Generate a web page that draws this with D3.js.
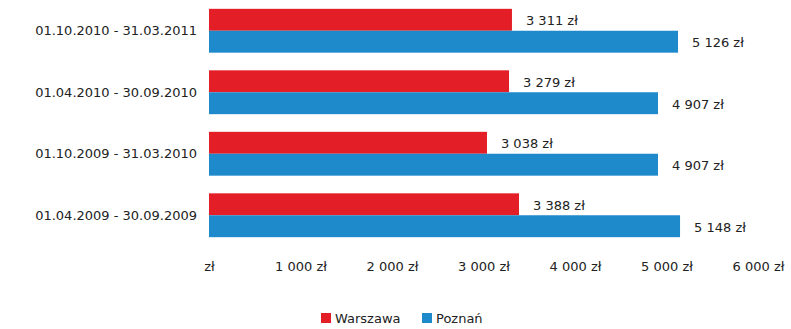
<!DOCTYPE html>
<html>
<head>
<meta charset="utf-8">
<script src="https://cdn.jsdelivr.net/npm/d3@7"></script>
<style>
  html, body { margin: 0; padding: 0; background: #fff; }
  svg { display: block; font-family: "DejaVu Sans", sans-serif; }
</style>
</head>
<body>
<svg id="chart" width="791" height="329"></svg>
<script>
// Periods, top to bottom
const periods = [
  "01.10.2010 - 31.03.2011",
  "01.04.2010 - 30.09.2010",
  "01.10.2009 - 31.03.2010",
  "01.04.2009 - 30.09.2009"
];
const seriesNames = ["Warszawa", "Poznań"];
const warszawa = [3311, 3279, 3038, 3388];
const poznan = [5126, 4907, 4907, 5148];
const tickValues = [0, 1000, 2000, 3000, 4000, 5000, 6000];
const colors = ["#e31e26", "#1f8acb"];

const svg = d3.select("#chart");
const fmt = v => v === 0 ? "zł" : d3.format(",")(v).replace(/,/g, " ") + " zł";

const x = d3.scaleLinear().domain([0, 6000]).range([209, 758]);
const y = d3.scaleBand().domain(periods).range([0, 246]).paddingInner(0.287).paddingOuter(0.1435);
const ys = d3.scaleBand().domain(seriesNames).range([0, y.bandwidth()]);

const rows = periods.map((p, i) => ({ period: p, values: [warszawa[i], poznan[i]] }));

const g = svg.selectAll("g.row").data(rows).join("g")
  .attr("class", "row")
  .attr("transform", d => `translate(0,${y(d.period)})`);

g.selectAll("rect").data(d => d.values.map((v, j) => ({ v, j }))).join("rect")
  .attr("x", x(0))
  .attr("y", d => ys(seriesNames[d.j]))
  .attr("width", d => x(d.v) - x(0))
  .attr("height", ys.bandwidth())
  .attr("fill", d => colors[d.j]);

g.selectAll("text.val").data(d => d.values.map((v, j) => ({ v, j }))).join("text")
  .attr("class", "val")
  .attr("x", d => x(d.v) + 14)
  .attr("y", d => ys(seriesNames[d.j]) + ys.bandwidth() / 2 + 1)
  .attr("dy", "0.35em")
  .attr("font-size", 13)
  .attr("fill", "#222")
  .text(d => fmt(d.v));

// Category labels
svg.selectAll("text.cat").data(periods).join("text")
  .attr("class", "cat")
  .attr("x", 197)
  .attr("y", d => y(d) + y.bandwidth() / 2)
  .attr("dy", "0.35em")
  .attr("text-anchor", "end")
  .attr("font-size", 13)
  .attr("fill", "#222")
  .text(d => d);

// Value axis (labels only)
const axis = svg.append("g")
  .attr("transform", "translate(0,262)")
  .call(d3.axisBottom(x).tickValues(tickValues).tickFormat(fmt).tickSize(0).tickPadding(0));
axis.select(".domain").remove();
axis.selectAll("text")
  .attr("font-size", 13)
  .attr("font-family", "DejaVu Sans, sans-serif")
  .attr("fill", "#222");

// Legend
const legendX = [321, 422];
const lg = svg.selectAll("g.legend").data(seriesNames).join("g")
  .attr("class", "legend")
  .attr("transform", (d, i) => `translate(${legendX[i]},318)`);
lg.append("rect").attr("x", 0).attr("y", -5).attr("width", 10).attr("height", 10)
  .attr("fill", (d, i) => colors[i]);
lg.append("text").attr("x", 14).attr("dy", "0.35em")
  .attr("font-size", 13).attr("fill", "#222").text(d => d);
</script>
</body>
</html>
